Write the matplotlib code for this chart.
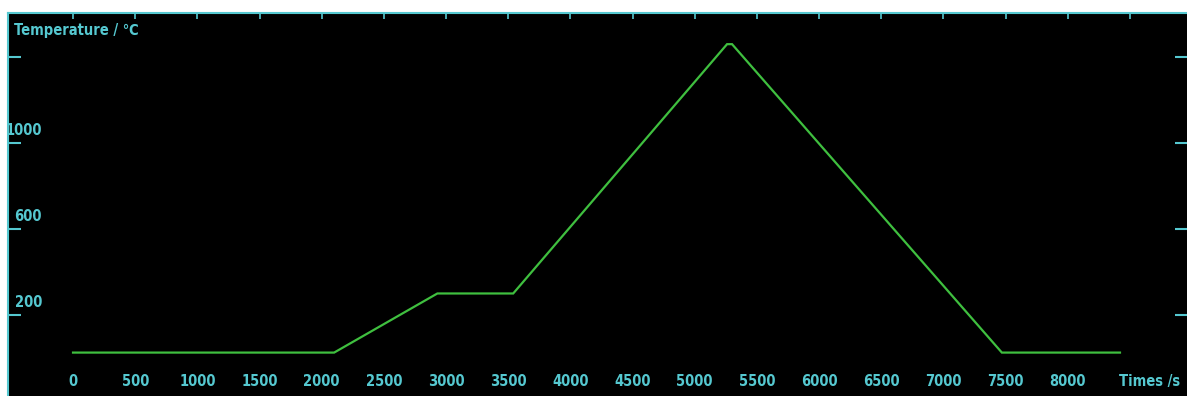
import matplotlib
matplotlib.use("Agg")
import matplotlib.pyplot as plt
import matplotlib.transforms as mtransforms
from matplotlib import font_manager

# Heating program: time (s) vs. furnace temperature (°C)
time_s = [0, 2100, 2930, 3540, 5260, 5300, 7470, 8420]
temp_c = [25, 25, 300, 300, 1460, 1460, 25, 25]

x_tick_values = [0, 500, 1000, 1500, 2000, 2500, 3000, 3500, 4000,
                 4500, 5000, 5500, 6000, 6500, 7000, 7500, 8000]
x_top_ticks = x_tick_values + [8500]
y_tick_values = [200, 600, 1000, 1400]
y_tick_labels = ["200", "600", "1000", ""]

# Prefer a narrow bold face for the labels when one is available
names = {f.name for f in font_manager.fontManager.ttflist}
condensed = any("Condensed" in f.fname and "DejaVuSans" in f.fname
                for f in font_manager.fontManager.ttflist)
if "Liberation Sans Narrow" in names:
    FAMILY, STRETCH = ["Liberation Sans Narrow", "DejaVu Sans"], "normal"
elif condensed:
    FAMILY, STRETCH = ["DejaVu Sans", "Liberation Sans"], "condensed"
else:
    FAMILY, STRETCH = ["Liberation Sans", "DejaVu Sans"], "normal"

W, H = 1187, 396
fig = plt.figure(figsize=(W / 100, H / 100), dpi=100, facecolor="white")
left_px, top_px = 8, 13
ax = fig.add_axes([left_px / W, 0, 1 - left_px / W, 1 - top_px / H])
ax.set_facecolor("black")

CYAN = "#55c8d0"
GREEN = "#3fbf3f"
FONT = dict(family=FAMILY, stretch=STRETCH, weight="bold", color=CYAN, size=10.5)

ax.plot(time_s, temp_c, color=GREEN, lw=1.6, solid_joinstyle="miter")

ax.set_xlim(-523, 8959)
ax.set_ylim(-177, 1605)

for side in ("bottom", "right"):
    ax.spines[side].set_visible(False)
for side in ("top", "left"):
    ax.spines[side].set_color(CYAN)
    ax.spines[side].set_linewidth(1.5)

# Tick marks: top edge every 500 s, both sides every 400 °C
ax.xaxis.set_ticks_position("top")
ax.set_xticks(x_top_ticks)
ax.set_xticklabels([])
ax.tick_params(axis="x", direction="in", length=4, width=1.2, color=CYAN)
ax.yaxis.set_ticks_position("both")
ax.set_yticks(y_tick_values)
ax.set_yticklabels([])
ax.tick_params(axis="y", direction="in", length=9, width=1.5, color=CYAN)

# Time labels along the bottom
bt = mtransforms.blended_transform_factory(ax.transData, ax.transAxes)
for v in x_tick_values:
    ax.text(v, 0.039, str(v), transform=bt, ha="center", va="center", **FONT)
ax.text((1180 - left_px) / (W - left_px), 0.039, "Times /s",
        transform=ax.transAxes, ha="right", va="center", **FONT)

# Temperature labels just above their ticks
lt = mtransforms.blended_transform_factory(ax.transAxes, ax.transData)
x_lab = (42 - left_px) / (W - left_px)
for v, lab in zip(y_tick_values, y_tick_labels):
    if lab:
        ax.text(x_lab, v + 25, lab, transform=lt, ha="right", va="bottom", **FONT)

ax.text(6 / (W - left_px), 1 - 17 / (H - top_px), "Temperature / \u2103",
        transform=ax.transAxes, ha="left", va="center", **FONT)

fig.savefig("out.png", dpi=100, facecolor="white")
